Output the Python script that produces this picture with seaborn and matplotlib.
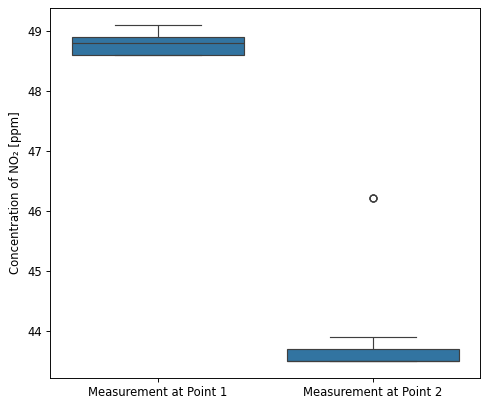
import matplotlib
matplotlib.use("Agg")
import matplotlib.pyplot as plt
import seaborn as sns
import pandas as pd

categories = ["Measurement at Point 1", "Measurement at Point 2"]
point1_values = [48.6, 48.6, 48.6, 48.7, 48.8, 48.9, 48.9, 49.0, 49.1]
point2_values = [43.5] * 9 + [43.7] * 4 + [43.9] + [46.22] * 3

df = pd.DataFrame({
    "location": [categories[0]] * len(point1_values) + [categories[1]] * len(point2_values),
    "value": point1_values + point2_values,
})

DPI = 84
fig, ax = plt.subplots(figsize=(481 / DPI, 403 / DPI), dpi=DPI)
sns.boxplot(data=df, x="location", y="value", ax=ax)
ax.set_xlabel("")
ax.set_ylabel("Concentration of NO₂ [ppm]")
fig.subplots_adjust(left=50 / 481, right=480 / 481, top=1 - 8 / 403, bottom=1 - 378 / 403)
fig.savefig("out.png", dpi=DPI)
